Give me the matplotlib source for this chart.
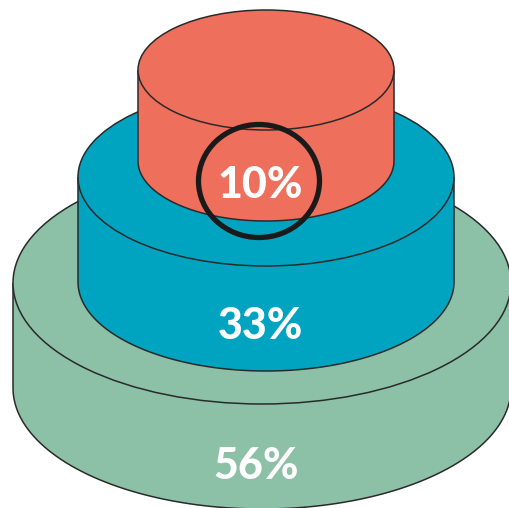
import numpy as np
import matplotlib.pyplot as plt
from matplotlib.patches import Ellipse, Polygon

# tiers from bottom to top
labels = ["56%", "33%", "10%"]
colors = ["#8cc0a7", "#00a4c1", "#ee6f5c"]

# layout of each cylinder in pixel units (x centre, half width, top y, bottom y, ellipse half height)
cx = [262, 266, 266]
half_w = [249, 188, 128]
top_y = [283, 177, 70]
bot_y = [388, 282, 161]
ell_h = [121, 89, 60]
label_y = [466, 326, 185]

edge = "#2a2a2a"

fig = plt.figure(figsize=(5.10, 5.08), dpi=100)
ax = fig.add_axes([0, 0, 1, 1])
ax.set_xlim(0, 510)
ax.set_ylim(508, 0)
ax.axis("off")

t = np.linspace(np.pi, 0, 100)
for i in range(3):
    a, b = half_w[i], ell_h[i]
    # body: sides + lower half of bottom ellipse
    arc_x = cx[i] + a * np.cos(t)
    arc_y = bot_y[i] + b * np.sin(t)
    pts = [(cx[i] - a, top_y[i])] + list(zip(arc_x, arc_y)) + [(cx[i] + a, top_y[i])]
    ax.add_patch(Polygon(pts, closed=False, facecolor=colors[i], edgecolor=edge, lw=1.1))
    # top face
    ax.add_patch(Ellipse((cx[i], top_y[i]), 2 * a, 2 * b, facecolor=colors[i], edgecolor=edge, lw=1.1))
    ax.text(cx[i] - 6, label_y[i], labels[i], color="white", fontsize=31, fontweight=900,
            family="Lato", ha="center", va="center")

# highlight ring around the top value
ax.add_patch(Ellipse((259, 181), 121, 113, facecolor="none", edgecolor="#1a1a1a", lw=3.8))

fig.savefig("out.png", dpi=100)
